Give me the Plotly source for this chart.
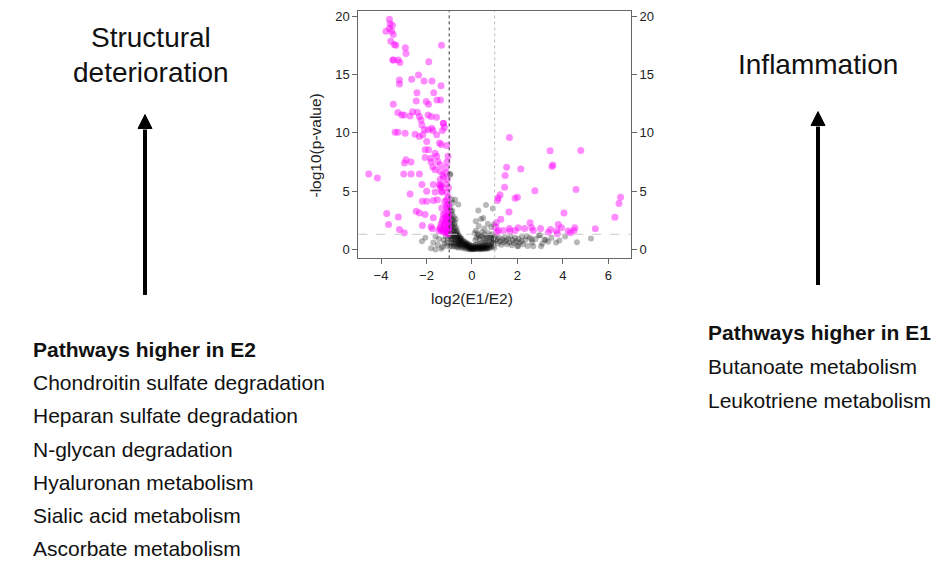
import plotly.graph_objects as go

W, H = 948, 565

# ---------------- data ----------------
sig_pts = [
    (-3.63,19.74),(-3.78,18.72),(-3.60,19.37),(-3.50,19.23),(-3.63,18.95),(-3.53,18.72),(-3.46,18.43),
    (-3.57,17.86),(-3.41,17.58),(-3.35,17.52),(-2.93,17.29),(-2.90,16.81),(-3.49,16.24),(-3.44,16.24),
    (-3.24,16.24),(-3.17,16.04),(-1.90,16.10),(-1.34,17.52),(-3.19,14.53),(-3.19,14.19),(-2.65,14.59),
    (-2.35,14.96),(-2.11,14.44),(-1.76,14.44),(-1.36,14.05),(-2.42,13.45),(-1.68,13.45),(-2.45,12.74),
    (-2.01,12.68),(-1.91,12.45),(-1.54,12.82),(-1.38,12.82),(-3.46,12.45),(-3.26,11.74),(-3.09,11.54),
    (-2.99,11.54),(-2.72,11.45),(-2.61,11.82),(-2.40,11.77),(-2.31,11.40),(-2.24,11.11),(-1.93,11.54),
    (-1.80,11.40),(-1.56,11.34),(-1.26,10.83),(-1.21,10.46),(-1.77,10.40),(-1.72,10.20),(-2.20,10.68),
    (-2.09,10.26),(-1.93,10.26),(-3.38,10.06),(-3.26,10.06),(-2.94,9.97),(-2.50,9.89),(-2.31,9.69),
    (-2.16,9.83),(-1.99,9.26),(-1.55,9.83),(-1.43,9.12),(-1.11,8.92),(-2.06,8.55),(-1.91,8.55),
    (-1.62,8.26),(-2.06,7.89),(-1.81,7.83),(-2.90,7.69),(-2.97,7.41),(-2.68,7.49),(-1.80,7.49),
    (-1.50,7.55),(-1.40,7.26),(-1.72,7.07),(-1.62,6.84),(-1.40,6.70),(-3.00,6.47),(-2.68,6.47),
    (-2.31,6.47),(-1.28,6.41),(-1.14,6.55),(-4.54,6.47),(-4.16,6.13),(-2.20,5.56),(-1.70,5.56),
    (-1.40,5.56),(-1.33,5.41),(-2.72,4.76),(-1.99,4.99),(-1.62,4.93),(-1.33,4.93),(-1.52,4.27),
    (-1.11,4.27),(-2.18,4.13),(-1.99,4.13),(-1.70,4.19),(-1.11,3.85),(-1.33,3.56),(-3.75,3.08),
    (-3.24,2.79),(-2.45,3.28),(-2.31,3.13),(-2.06,2.99),(-1.70,2.71),(-1.26,2.99),(-1.18,2.76),
    (-1.11,2.56),(-1.30,2.42),(-1.21,2.14),(-3.67,2.14),(-3.19,1.71),(-2.98,1.42),(-2.18,2.05),
    (-1.74,1.77),(-1.80,1.95),(-1.40,1.77),(-1.33,1.57),(-1.11,1.57),(-1.03,1.85),(-1.03,2.42),
    (-1.03,3.00),(-1.03,3.56),
    (-1.05,1.40),(-1.08,1.60),(-1.02,1.80),(-1.12,1.90),(-1.04,2.10),(-1.15,2.30),(-1.06,2.50),
    (-1.10,2.70),(-1.03,2.90),(-1.18,3.10),(-1.07,3.30),(-1.12,3.60),(-1.02,3.90),(-1.20,4.10),
    (-1.05,4.50),(-1.10,4.90),(-1.03,5.30),(-1.15,5.60),(-1.08,6.00),(-1.25,1.50),(-1.30,1.70),
    (-1.22,2.00),(-1.35,2.20),(-1.28,2.60),(-1.40,1.90),(-1.45,1.60),(-1.38,5.30),(-1.32,5.00),
    (-1.42,5.50),(-1.25,6.20),(-1.10,7.50),(-1.05,8.00),(-1.15,7.00),(-1.40,6.00),(-1.35,9.00),
    (-1.55,8.00),(-1.30,10.20),(-1.25,10.80),(-1.15,1.45),(-1.06,1.30),(-1.18,1.70),
    (1.65,9.60),(3.44,8.46),(4.79,8.49),(3.52,7.12),(3.56,7.25),(2.15,6.89),(1.53,7.04),(1.46,6.35),
    (1.44,5.33),(2.77,5.04),(4.58,5.13),(1.24,4.70),(1.16,4.42),(1.12,4.19),(2.00,4.47),(6.54,4.47),
    (6.47,3.93),(6.29,2.76),(4.05,3.13),(1.63,3.22),(1.27,2.59),(1.07,2.28),(1.16,1.62),(1.38,1.62),
    (1.65,1.79),(1.67,1.57),(1.90,1.62),(2.32,1.79),(2.56,2.28),(2.63,1.85),(2.70,1.62),(3.02,1.79),
    (3.36,1.48),(3.46,1.71),(3.73,1.57),(3.76,1.34),(3.80,2.14),(3.94,1.85),(4.24,1.57),(4.34,1.42),
    (4.49,1.62),(4.53,1.85),(5.43,1.77),(2.04,1.85),(1.10,1.50),(1.05,1.90),(1.90,4.40),
]

ns_pts = [
    (-0.95,6.40),(-0.97,6.50),(-0.74,4.27),(-0.60,3.85),(-0.90,4.30),(-0.85,4.00),(-0.95,3.60),
    (-0.92,3.30),(-0.88,3.00),(-0.98,2.80),(-0.90,2.60),(-0.82,2.50),(-0.95,2.30),(-0.87,2.20),
    (-0.78,2.10),(-0.93,2.00),(-0.85,1.90),(-0.75,1.80),(-0.96,1.70),(-0.88,1.60),(-0.80,1.55),
    (-0.70,1.50),(-0.92,1.40),(-0.84,1.30),(-0.76,1.25),(-0.66,1.20),(-0.95,1.15),(-0.88,1.10),
    (-0.80,1.05),(-0.72,1.00),(-0.62,0.95),(-0.90,0.90),(-0.83,0.85),(-0.75,0.80),(-0.68,0.75),
    (-0.58,0.70),(-0.92,0.60),(-0.85,0.55),(-0.78,0.50),(-0.70,0.50),(-0.60,0.45),(-0.50,0.45),
    (-0.95,0.30),(-0.88,0.25),(-0.80,0.30),(-0.70,0.20),(-0.65,1.60),(-0.60,1.30),(-0.55,1.10),
    (-0.50,1.00),(-0.45,0.90),(-0.70,1.90),(-0.75,2.30),(-0.68,1.40),(-0.62,1.15),(-0.80,2.80),
    (-0.72,2.60),(-0.86,3.30),
    (-2.20,0.70),(-1.70,0.60),(-1.50,0.40),(-1.80,0.10),(-1.60,0.00),(-1.30,0.20),(-1.20,0.50),
    (-1.45,0.90),(-1.10,0.30),(-1.05,0.90),(-1.15,1.10),(-1.60,1.10),(-2.05,1.00),(-1.35,0.05),
    (-1.25,0.80),(-1.08,0.60),
    (-0.62,0.62),(-0.55,0.55),(-0.50,0.70),(-0.45,0.50),(-0.42,0.62),(-0.38,0.40),(-0.35,0.55),
    (-0.30,0.35),(-0.28,0.48),(-0.25,0.30),(-0.22,0.42),(-0.20,0.22),(-0.18,0.35),(-0.15,0.15),
    (-0.12,0.28),(-0.10,0.10),(-0.08,0.20),(-0.05,0.05),(-0.02,0.12),(0.00,0.02),(0.03,0.08),
    (0.05,0.15),(0.08,0.04),(0.10,0.10),(0.12,0.20),(0.15,0.06),(0.18,0.12),(0.20,0.25),
    (0.22,0.03),(0.25,0.15),(0.28,0.08),(0.30,0.20),(0.33,0.10),(0.35,0.30),(0.38,0.05),
    (0.40,0.18),(0.43,0.12),(0.45,0.25),(0.48,0.08),(0.50,0.35),(0.53,0.15),(0.55,0.22),
    (0.58,0.10),(0.60,0.40),(0.63,0.18),(0.65,0.30),(0.70,0.12),(0.72,0.45),(0.75,0.25),
    (0.80,0.35),(0.85,0.20),(0.88,0.50),(0.92,0.30),(0.95,0.60),(0.98,0.15),
    (-0.58,0.85),(-0.52,0.95),(-0.48,0.80),(-0.40,0.75),(-0.33,0.68),(-0.27,0.60),(-0.20,0.50),
    (-0.13,0.45),(-0.07,0.35),(0.00,0.30),(0.07,0.32),(0.15,0.38),(0.25,0.45),(0.35,0.50),
    (0.45,0.55),(0.55,0.60),(0.65,0.70),(0.78,0.65),(0.90,0.80),
    (-0.45,0.15),(-0.35,0.10),(-0.25,0.05),(-0.15,0.02),(-0.30,0.20),(-0.40,0.30),(-0.50,0.25),
    (-0.55,0.35),(-0.08,0.02),(0.02,0.05),(0.12,0.02),(0.32,0.02),(0.42,0.03),(0.52,0.04),
    (0.62,0.06),(0.68,0.08),(0.78,0.10),(-0.65,0.30),(-0.60,0.15),
    (0.15,0.80),(0.20,1.00),(0.25,1.30),(0.18,1.60),(0.30,1.20),(0.35,0.90),(0.40,1.10),
    (0.45,1.50),(0.50,1.00),(0.55,1.30),(0.60,0.90),(0.65,1.10),(0.70,1.40),(0.75,0.95),
    (0.80,1.20),(0.85,1.00),(0.90,1.30),(0.95,0.90),(1.00,1.10),(1.05,0.70),(1.10,0.90),
    (1.15,0.50),(1.20,1.00),(1.25,0.70),(1.30,0.40),(1.35,0.85),(1.40,0.60),(1.45,1.05),
    (1.50,0.75),(1.55,0.45),(1.60,0.90),(1.65,0.60),(1.70,1.10),(1.75,0.35),(1.80,0.80),
    (1.85,0.55),(1.90,1.00),(1.95,0.70),(2.00,0.30),(2.05,0.90),(2.10,0.60),(2.20,1.10),
    (2.25,0.45),(2.35,0.80),(2.45,0.30),(2.55,1.00),(2.65,0.60),(2.80,0.90),(2.95,1.20),
    (3.10,0.50),(3.25,0.80),(3.50,1.00),(3.70,0.60),(3.85,0.77),(4.10,1.10),(4.62,0.62),
    (5.24,0.94),(3.00,1.22),(3.36,0.65),(3.19,0.85),(2.63,0.85),(2.70,0.28),(2.19,0.71),
    (2.41,1.14),(2.04,0.28),(3.04,0.28),
    (0.28,3.33),(0.62,3.82),(0.97,2.14),(0.50,2.70),(0.17,2.42),(0.30,2.00),(0.40,2.60),
    (0.70,2.20),(0.85,1.90),(0.55,1.80),(0.12,1.40),(0.92,3.50),
]

sig_x = [p[0] for p in sig_pts]
sig_y = [p[1] for p in sig_pts]
ns_x = [p[0] for p in ns_pts]
ns_y = [p[1] for p in ns_pts]

x_ticks = [-4, -2, 0, 2, 4, 6]
y_ticks = [0, 5, 10, 15, 20]

left_header = "Pathways higher in E2"
left_items = ["Chondroitin sulfate degradation", "Heparan sulfate degradation",
              "N-glycan degradation", "Hyaluronan metabolism",
              "Sialic acid metabolism", "Ascorbate metabolism"]
right_header = "Pathways higher in E1"
right_items = ["Butanoate metabolism", "Leukotriene metabolism"]

# ---------------- layout helpers ----------------
def px(x):
    return x / W

def py(y):
    return 1 - y / H

FONT = "Liberation Sans, Arial, sans-serif"

fig = go.Figure()
fig.add_trace(go.Scatter(x=ns_x, y=ns_y, mode="markers",
                         marker=dict(color="rgba(0,0,0,0.28)", size=6, line=dict(width=0)),
                         showlegend=False, hoverinfo="skip"))
fig.add_trace(go.Scatter(x=sig_x, y=sig_y, mode="markers",
                         marker=dict(color="rgba(255,0,255,0.45)", size=7, line=dict(width=0)),
                         showlegend=False, hoverinfo="skip"))
fig.add_trace(go.Scatter(x=[], y=[], yaxis="y2", showlegend=False))

xd = [px(358.3), px(631)]
yd = [py(257.3), py(9.3)]
axis_line = "#666666"
tick_font = dict(family=FONT, size=13, color="#222222")

fig.update_layout(
    width=W, height=H, margin=dict(l=0, r=0, t=0, b=0),
    paper_bgcolor="white", plot_bgcolor="white",
    xaxis=dict(domain=xd, range=[-5.0, 7.0], tickvals=x_ticks, ticks="outside", ticklen=5,
               tickcolor=axis_line, showline=True, linecolor=axis_line, linewidth=1, mirror=True,
               showgrid=False, zeroline=False, tickfont=tick_font, fixedrange=True),
    yaxis=dict(domain=yd, range=[-0.77, 20.43], tickvals=y_ticks, ticks="outside", ticklen=5,
               tickcolor=axis_line, showline=True, linecolor=axis_line, linewidth=1, mirror=True,
               showgrid=False, zeroline=False, tickfont=tick_font, fixedrange=True),
    yaxis2=dict(overlaying="y", side="right", range=[-0.77, 20.43], tickvals=y_ticks,
                ticks="outside", ticklen=5, tickcolor=axis_line, showline=False,
                showgrid=False, zeroline=False, tickfont=tick_font, fixedrange=True),
)

# reference lines
fig.add_shape(type="line", xref="x", yref="y domain", x0=-1, x1=-1, y0=0, y1=1,
              line=dict(color="#333333", width=1, dash="dot"))
fig.add_shape(type="line", xref="x", yref="y domain", x0=1, x1=1, y0=0, y1=1,
              line=dict(color="#bbbbbb", width=1, dash="dot"))
fig.add_shape(type="line", xref="x domain", yref="y", x0=0, x1=1, y0=1.3, y1=1.3,
              line=dict(color="#c8c8c8", width=1, dash="dash"))

def note(text, x, y, font, xanchor="center", angle=0):
    fig.add_annotation(text=text, xref="paper", yref="paper", x=px(x), y=py(y),
                       xanchor=xanchor, yanchor="middle", showarrow=False,
                       textangle=angle, font=font)

# axis titles
title_font = dict(family=FONT, size=15.5, color="#222222")
note("log2(E1/E2)", 472, 298, title_font)
note("-log10(p-value)", 315, 144, title_font, angle=-90)

# big titles
big = dict(family=FONT, size=28, color="#111111")
note("Structural", 151, 36, big)
note("deterioration", 151, 71, big)
note("Inflammation", 818, 63, big)

# arrows
for xc, tip, base, bottom in [(145, 113, 127, 294), (818, 110, 124, 284)]:
    fig.add_shape(type="line", xref="paper", yref="paper", x0=px(xc), x1=px(xc),
                  y0=py(bottom), y1=py(base + 1), line=dict(color="black", width=4))
    fig.add_shape(type="path", xref="paper", yref="paper",
                  path=f"M {px(xc-7)} {py(base)} L {px(xc+7)} {py(base)} L {px(xc)} {py(tip)} Z",
                  fillcolor="black", line=dict(color="black", width=1))

# pathway lists
txt = dict(family=FONT, size=21, color="#111111")
note(f"<b>{left_header}</b>", 31, 349, txt, xanchor="left")
for i, t in enumerate(left_items):
    note(t, 31, 382 + 33.3 * i, txt, xanchor="left")
note(f"<b>{right_header}</b>", 706, 332, txt, xanchor="left")
for i, t in enumerate(right_items):
    note(t, 706, 366 + 33.5 * i, txt, xanchor="left")

fig.write_html("out.html")
